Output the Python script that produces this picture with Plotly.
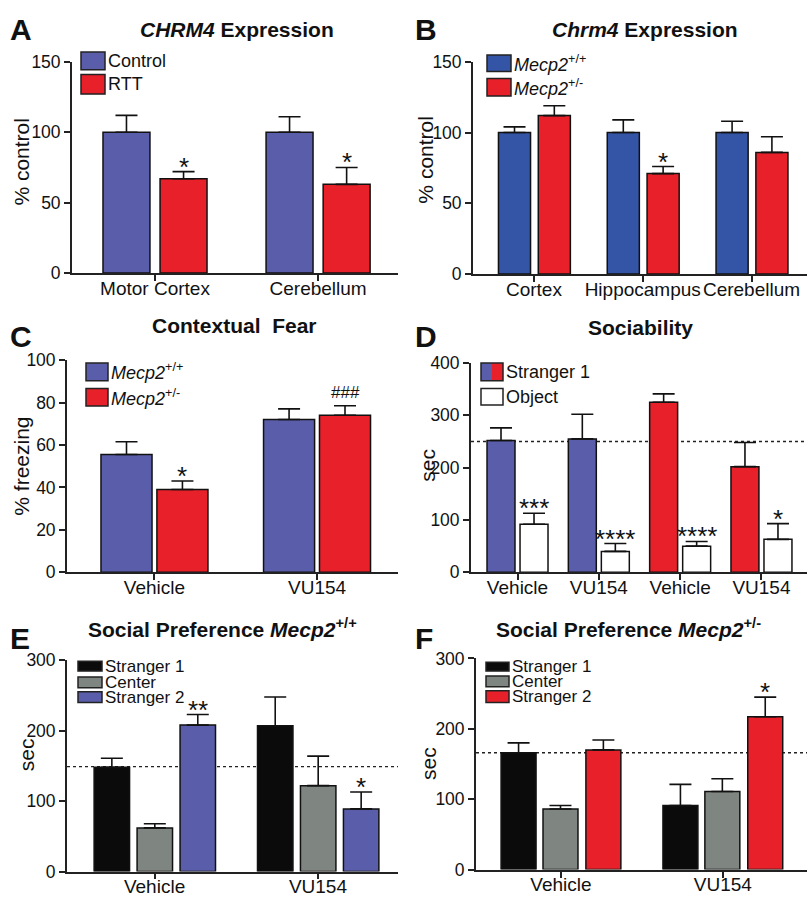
import plotly.graph_objects as go
import numpy as np

W, H = 808, 907
FONT = "Liberation Sans, Arial, Helvetica, sans-serif"
BLUE_A = "#5A5EAA"
BLUE_B = "#3454A6"
RED = "#E8202A"
GRAY = "#7F8580"
BLACK = "#0B0B0B"
WHITE = "#FFFFFF"

# ---------------- data ----------------
# Panel A
a_categories = ["Motor Cortex", "Cerebellum"]
a_control = [100, 100]
a_control_sem = [12, 11]
a_rtt = [67, 63]
a_rtt_sem = [5, 12]

# Panel B
b_categories = ["Cortex", "Hippocampus", "Cerebellum"]
b_wt = [100, 100, 100]
b_wt_sem = [4, 9, 8]
b_het = [112, 71, 86]
b_het_sem = [7, 5, 11]

# Panel C
c_categories = ["Vehicle", "VU154"]
c_wt = [55.5, 72]
c_wt_sem = [6, 5]
c_het = [39, 74]
c_het_sem = [4, 4.5]

# Panel D
d_categories = ["Vehicle", "VU154", "Vehicle", "VU154"]
d_stranger = [252, 255, 325, 202]
d_stranger_sem = [24, 47, 16, 46]
d_object = [92, 40, 50, 63]
d_object_sem = [21, 15, 9, 30]
d_reference = 250

# Panel E
e_categories = ["Vehicle", "VU154"]
e_stranger1 = [148, 207]
e_stranger1_sem = [13, 41]
e_center = [62, 122]
e_center_sem = [6, 42]
e_stranger2 = [208, 89]
e_stranger2_sem = [15, 24]
e_reference = 149

# Panel F
f_categories = ["Vehicle", "VU154"]
f_stranger1 = [166, 91]
f_stranger1_sem = [14, 30]
f_center = [86, 111]
f_center_sem = [5, 18]
f_stranger2 = [170, 217]
f_stranger2_sem = [14, 28]
f_reference = 166


def X(p):
    return p / W


def Y(p):
    return 1 - p / H


fig = go.Figure()
annotations = []
shapes = []


def setup_axes(n, xdom, ydom, xr, yr, dtick, labels):
    sfx = "" if n == 1 else str(n)
    fig.layout["xaxis" + sfx] = dict(
        domain=[X(xdom[0]), X(xdom[1])], range=list(xr), anchor="y" + sfx,
        tickmode="array", tickvals=list(range(len(labels))), ticktext=labels,
        showline=True, linecolor="#222", linewidth=1.8, ticks="outside",
        ticklen=6, tickwidth=1.5, tickcolor="#222", showgrid=False, zeroline=False,
        ticklabelstandoff=-9,
        tickfont=dict(size=19, color="#111", family=FONT), fixedrange=True)
    fig.layout["yaxis" + sfx] = dict(
        domain=[Y(ydom[0]), Y(ydom[1])], range=list(yr), anchor="x" + sfx,
        dtick=dtick, showline=True, linecolor="#222", linewidth=1.8,
        ticks="outside", ticklen=6, tickwidth=1.5, tickcolor="#222",
        showgrid=False, zeroline=False,
        tickfont=dict(size=17.5, color="#111", family=FONT), fixedrange=True)


def add_bars(n, values, sem, color, offset, width, name):
    sfx = "" if n == 1 else str(n)
    fig.add_trace(go.Bar(
        x=np.arange(len(values)), y=values, offset=offset, width=width,
        marker=dict(color=color, line=dict(color="#111", width=1.5)),
        error_y=dict(type="data", symmetric=False, array=sem,
                     arrayminus=[0] * len(values), color="#111",
                     thickness=1.6, width=11),
        name=name, showlegend=False, xaxis="x" + sfx, yaxis="y" + sfx))


def star(n, idx, values, sem, offset, width, text, size=26, shift=-12):
    sfx = "" if n == 1 else str(n)
    annotations.append(dict(
        x=idx + offset + width / 2, y=values[idx] + sem[idx],
        xref="x" + sfx, yref="y" + sfx, text=text, showarrow=False,
        yanchor="bottom", yshift=shift,
        font=dict(size=size, color="#111", family=FONT)))


def legend(entries, x0, x1, tops, bottoms, size=18):
    for (label, colors), t, b in zip(entries, tops, bottoms):
        k = len(colors)
        for j, c in enumerate(colors):
            xa = x0 + (x1 - x0) * j / k
            xb = x0 + (x1 - x0) * (j + 1) / k
            shapes.append(dict(type="rect", xref="paper", yref="paper",
                               x0=X(xa), x1=X(xb), y0=Y(b), y1=Y(t),
                               fillcolor=c, line=dict(width=0)))
        shapes.append(dict(type="rect", xref="paper", yref="paper",
                           x0=X(x0), x1=X(x1), y0=Y(b), y1=Y(t),
                           fillcolor="rgba(0,0,0,0)",
                           line=dict(color="#222", width=1.5)))
        annotations.append(dict(x=X(x1 + 1), y=Y((t + b) / 2), xref="paper",
                                yref="paper", text=label, showarrow=False,
                                xanchor="left", yanchor="middle",
                                font=dict(size=size, color="#111", family=FONT)))


def text_at(x, y, text, size, angle=0, xanchor="center"):
    annotations.append(dict(x=X(x), y=Y(y), xref="paper", yref="paper",
                            text=text, showarrow=False, textangle=angle,
                            xanchor=xanchor, yanchor="middle",
                            font=dict(size=size, color="#111", family=FONT)))


def ref_line(n, yval):
    sfx = "" if n == 1 else str(n)
    shapes.append(dict(type="line", xref="x" + sfx + " domain", yref="y" + sfx,
                       x0=0, x1=1, y0=yval, y1=yval, layer="below",
                       line=dict(color="#222", width=1.3, dash="dot")))


WT = "<i>Mecp2</i><sup>+/+</sup>"
HET = "<i>Mecp2</i><sup>+/-</sup>"
TS = 21  # title size

# ---------------- Panel A ----------------
setup_axes(1, (72, 398), (269, 53), (-0.509, 1.49), (0, 150), 50, a_categories)
wA, oA1, oA2 = 0.288, -0.319, 0.031
add_bars(1, a_control, a_control_sem, BLUE_A, oA1, wA, "Control")
add_bars(1, a_rtt, a_rtt_sem, RED, oA2, wA, "RTT")
for i in range(2):
    star(1, i, a_rtt, a_rtt_sem, oA2, wA, "*")
legend([("Control", [BLUE_A]), ("RTT", [RED])], 81, 105, [43, 66], [61, 86])
text_at(237, 20, "<b><i>CHRM4</i> Expression</b>", TS)
text_at(8, 20, "<b>A</b>", 30, xanchor="left")
text_at(22, 155, "% control", 21, angle=-90)

# ---------------- Panel B ----------------
setup_axes(2, (473, 807), (270, 53), (-0.56, 2.51), (0, 150), 50, b_categories)
wB, oB1, oB2 = 0.295, -0.326, 0.04
add_bars(2, b_wt, b_wt_sem, BLUE_B, oB1, wB, "Mecp2+/+")
add_bars(2, b_het, b_het_sem, RED, oB2, wB, "Mecp2+/-")
star(2, 1, b_het, b_het_sem, oB2, wB, "*")
legend([(WT, [BLUE_B]), (HET, [RED])], 487, 511, [46, 70], [63, 88])
text_at(645, 20, "<b><i>Chrm4</i> Expression</b>", TS)
text_at(413, 20, "<b>B</b>", 30, xanchor="left")
text_at(426, 153, "% control", 21, angle=-90)

# ---------------- Panel C ----------------
setup_axes(3, (67, 398), (575, 358), (-0.538, 1.498), (0, 100), 20, c_categories)
wC, oC1, oC2 = 0.314, -0.329, 0.015
add_bars(3, c_wt, c_wt_sem, BLUE_A, oC1, wC, "Mecp2+/+")
add_bars(3, c_het, c_het_sem, RED, oC2, wC, "Mecp2+/-")
star(3, 0, c_het, c_het_sem, oC2, wC, "*")
star(3, 1, c_het, c_het_sem, oC2, wC, "###", size=17, shift=2)
legend([(WT, [BLUE_A]), (HET, [RED])], 86, 108, [361, 387], [379, 405])
text_at(235, 323, "<b>Contextual  Fear</b>", TS)
text_at(8, 334, "<b>C</b>", 30, xanchor="left")
text_at(22, 467, "% freezing", 21, angle=-90)

# ---------------- Panel D ----------------
setup_axes(4, (471, 807), (575, 361), (-0.572, 3.56), (0, 400), 100, d_categories)
wD, oD1, oD2 = 0.344, -0.375, 0.031
d_colors = [BLUE_A, BLUE_A, RED, RED]
ref_line(4, d_reference)
add_bars(4, d_stranger, d_stranger_sem, d_colors, oD1, wD, "Stranger 1")
add_bars(4, d_object, d_object_sem, WHITE, oD2, wD, "Object")
for i, s in enumerate(["***", "****", "****", "*"]):
    star(4, i, d_object, d_object_sem, oD2, wD, s)
legend([("Stranger 1", [BLUE_A, RED]), ("Object", [WHITE])], 481, 503,
       [361, 387], [379, 404])
text_at(640, 325, "<b>Sociability</b>", TS)
text_at(413, 334, "<b>D</b>", 30, xanchor="left")
text_at(428, 466, "sec", 21, angle=-90)

# ---------------- Panel E ----------------
setup_axes(5, (67, 398), (881, 665), (-0.536, 1.49), (0, 300), 100, e_categories)
wE, oE1, oE2, oE3 = 0.217, -0.370, -0.107, 0.156
ref_line(5, e_reference)
add_bars(5, e_stranger1, e_stranger1_sem, BLACK, oE1, wE, "Stranger 1")
add_bars(5, e_center, e_center_sem, GRAY, oE2, wE, "Center")
add_bars(5, e_stranger2, e_stranger2_sem, BLUE_A, oE3, wE, "Stranger 2")
star(5, 0, e_stranger2, e_stranger2_sem, oE3, wE, "**")
star(5, 1, e_stranger2, e_stranger2_sem, oE3, wE, "*")
legend([("Stranger 1", [BLACK]), ("Center", [GRAY]), ("Stranger 2", [BLUE_A])],
       78, 102, [666, 682, 697], [676, 693, 708], size=17)
text_at(222, 632, "<b>Social Preference <i>Mecp2</i><sup>+/+</sup></b>", TS)
text_at(8, 643, "<b>E</b>", 30, xanchor="left")
text_at(26, 762, "sec", 21, angle=-90)

# ---------------- Panel F ----------------
setup_axes(6, (476, 807), (879, 663), (-0.525, 1.52), (0, 300), 100, f_categories)
wF, oF1, oF2, oF3 = 0.216, -0.370, -0.111, 0.154
ref_line(6, f_reference)
add_bars(6, f_stranger1, f_stranger1_sem, BLACK, oF1, wF, "Stranger 1")
add_bars(6, f_center, f_center_sem, GRAY, oF2, wF, "Center")
add_bars(6, f_stranger2, f_stranger2_sem, RED, oF3, wF, "Stranger 2")
star(6, 1, f_stranger2, f_stranger2_sem, oF3, wF, "*")
legend([("Stranger 1", [BLACK]), ("Center", [GRAY]), ("Stranger 2", [RED])],
       486, 509, [667, 681, 696], [676, 692, 708], size=17)
text_at(628, 632, "<b>Social Preference <i>Mecp2</i><sup>+/-</sup></b>", TS)
text_at(413, 643, "<b>F</b>", 30, xanchor="left")
text_at(429, 771, "sec", 21, angle=-90)

fig.update_layout(
    width=W, height=H, margin=dict(l=0, r=0, t=0, b=0),
    paper_bgcolor="white", plot_bgcolor="white", barmode="overlay",
    font=dict(family=FONT, color="#111"), showlegend=False,
    annotations=annotations, shapes=shapes)

fig.write_html(
    "out.html", config={"displayModeBar": False},
    post_script="document.body.style.margin='0';document.body.style.overflow='hidden';")
